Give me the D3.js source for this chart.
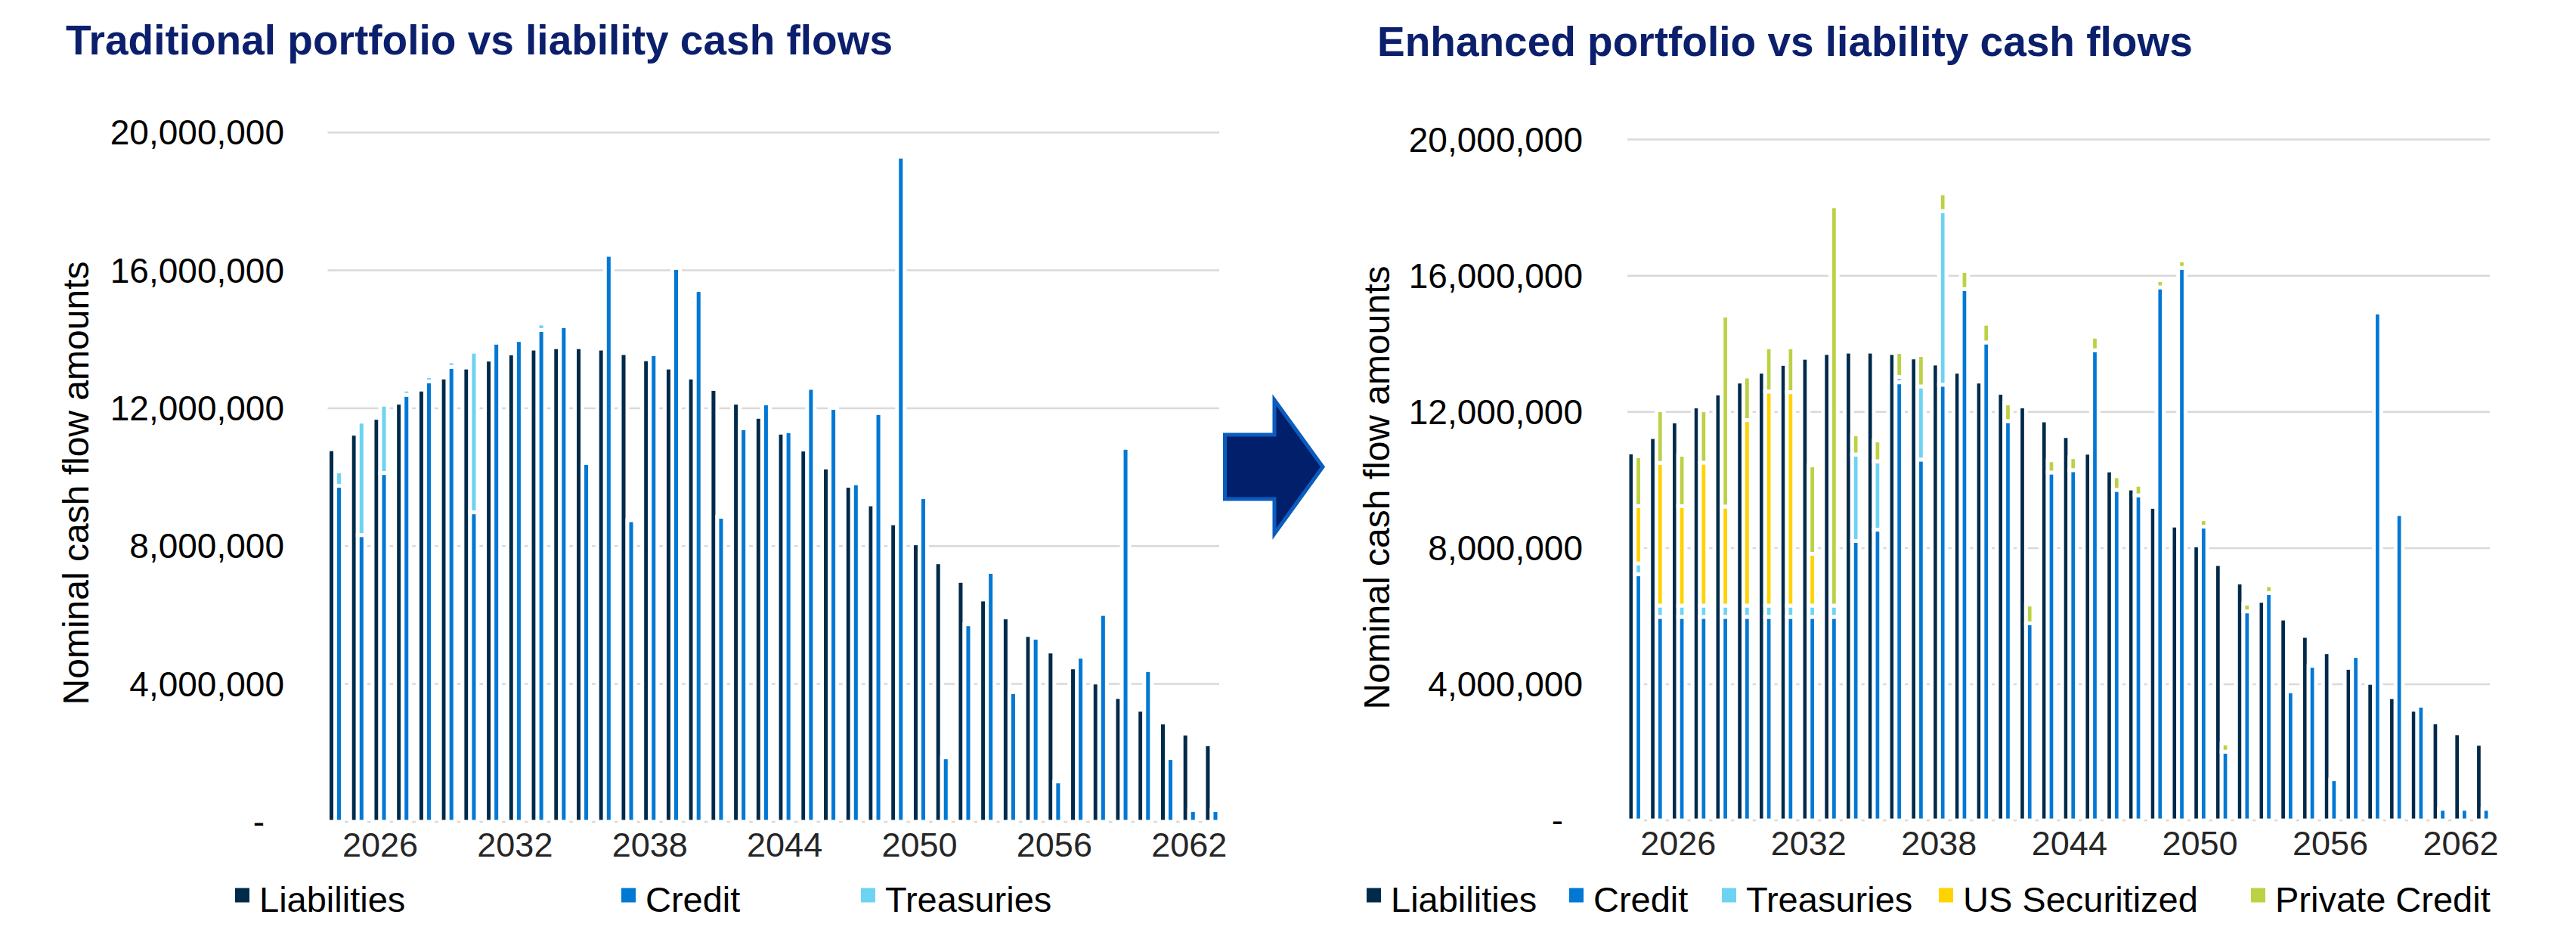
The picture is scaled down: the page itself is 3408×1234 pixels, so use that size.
<!DOCTYPE html>
<html>
<head>
<meta charset="utf-8">
<script src="https://cdn.jsdelivr.net/npm/d3@7"></script>
<style>
  body { margin: 0; background: #fff; }
  text { font-family: "Liberation Sans", Arial, sans-serif; }
</style>
</head>
<body>
<div id="chart"></div>
<script>
// cash flows, millions of dollars per year
const years = ["2024","2025","2026","2027","2028","2029","2030","2031","2032","2033",
  "2034","2035","2036","2037","2038","2039","2040","2041","2042","2043",
  "2044","2045","2046","2047","2048","2049","2050","2051","2052","2053",
  "2054","2055","2056","2057","2058","2059","2060","2061","2062","2063"];

const liabilities = [10.81, 11.26, 11.72, 12.16, 12.54, 12.89, 13.18, 13.41, 13.59, 13.73,
  13.77, 13.77, 13.73, 13.60, 13.42, 13.18, 12.89, 12.56, 12.16, 11.75,
  11.29, 10.80, 10.28, 9.75, 9.21, 8.66, 8.08, 7.53, 6.99, 6.45,
  5.93, 5.42, 4.94, 4.48, 4.04, 3.62, 3.25, 2.88, 2.56, 2.25];

// traditional portfolio
const tradCredit = [9.75, 8.32, 10.12, 12.39, 12.78, 13.20, 8.98, 13.90, 13.98, 14.27,
  14.38, 10.41, 16.45, 8.75, 13.57, 16.07, 15.43, 8.85, 11.42, 12.14,
  11.33, 12.59, 12.01, 9.82, 11.86, 19.30, 9.42, 1.87, 5.73, 7.25,
  3.76, 5.34, 1.17, 4.79, 6.03, 10.85, 4.40, 1.85, 0.34, 0.34];
const tradTreasuries = [0.42, 3.29, 1.98, 0.15, 0.15, 0.16, 4.66, 0, 0, 0.19,
  0, 0, 0, 0, 0, 0, 0, 0, 0, 0,
  0, 0, 0, 0, 0, 0, 0, 0, 0, 0,
  0, 0, 0, 0, 0, 0, 0, 0, 0, 0];

// enhanced portfolio
const enhCredit = [7.23, 5.98, 5.98, 5.98, 5.98, 5.98, 5.98, 5.98, 5.98, 5.98,
  8.21, 8.54, 12.87, 10.60, 12.80, 15.61, 14.04, 11.73, 5.79, 10.22,
  10.29, 13.81, 9.71, 9.55, 15.66, 16.23, 8.63, 2.02, 6.14, 6.68,
  3.79, 4.54, 1.21, 4.83, 14.92, 9.00, 3.37, 0.34, 0.34, 0.34];
const enhTreasuries = [0.32, 0.33, 0.33, 0.33, 0.33, 0.33, 0.33, 0.33, 0.33, 0.33,
  2.54, 2.01, 0.16, 2.15, 5.10, 0, 0, 0, 0, 0,
  0, 0, 0, 0, 0, 0, 0, 0, 0, 0,
  0, 0, 0, 0, 0, 0, 0, 0, 0, 0];
const enhSecuritized = [1.68, 4.19, 2.92, 4.20, 2.91, 5.45, 6.29, 6.27, 1.52, 0,
  0, 0, 0, 0, 0, 0, 0, 0, 0, 0,
  0, 0, 0, 0, 0, 0, 0, 0, 0, 0,
  0, 0, 0, 0, 0, 0, 0, 0, 0, 0];
const enhPrivateCredit = [1.47, 1.55, 1.51, 1.54, 5.61, 1.28, 1.30, 1.32, 2.60, 11.73,
  0.59, 0.61, 0.73, 0.92, 0.52, 0.53, 0.55, 0.52, 0.55, 0.36,
  0.38, 0.40, 0.40, 0.31, 0.21, 0.22, 0.22, 0.24, 0.23, 0.23,
  0, 0, 0, 0, 0, 0, 0, 0, 0, 0];

const yTicks = [0, 4, 8, 12, 16, 20];
const xTickLabels = ["2026", "2032", "2038", "2044", "2050", "2056", "2062"];

const colors = {
  "Liabilities": "#002A4A",
  "Credit": "#0078D4",
  "Treasuries": "#6DD3F3",
  "US Securitized": "#FFD200",
  "Private Credit": "#BCD144"
};

const width = 3408, height = 1234;
const svg = d3.select("#chart").append("svg")
  .attr("width", width)
  .attr("height", height)
  .style("display", "block");

svg.append("rect").attr("width", width).attr("height", height).attr("fill", "#fff");

const drawPanel = (cfg) => {
  let x0 = d3.scaleBand()
    .domain(years)
    .range([cfg.left, cfg.right])
    .paddingInner(0.325)
    .paddingOuter(0);

  let x1 = d3.scaleBand()
    .domain(["liab", "stack"])
    .range([0, x0.bandwidth()]);

  let y = d3.scaleLinear()
    .domain([0, 20])
    .range([cfg.bottom, cfg.top]);

  let g = svg.append("g");

  // gridlines + category axis line
  g.selectAll(".grid")
    .data(yTicks)
    .enter()
    .append("line")
    .attr("x1", cfg.left)
    .attr("x2", cfg.right)
    .attr("y1", d => y(d))
    .attr("y2", d => y(d))
    .attr("stroke", "#D9D9D9")
    .attr("stroke-width", 2.5);

  // y tick labels
  g.selectAll(".ylab")
    .data(yTicks)
    .enter()
    .append("text")
    .attr("x", d => d === 0 ? cfg.labelRight - 26 : cfg.labelRight)
    .attr("y", d => y(d))
    .attr("dy", "0.35em")
    .attr("text-anchor", "end")
    .attr("font-size", "46px")
    .attr("fill", "#000")
    .text(d => d === 0 ? "-" : d3.format(",")(d * 1e6));

  // x tick labels
  g.selectAll(".xlab")
    .data(xTickLabels)
    .enter()
    .append("text")
    .attr("x", d => x0(d) + x0.bandwidth() / 2)
    .attr("y", cfg.bottom + 46)
    .attr("text-anchor", "middle")
    .attr("font-size", "45px")
    .attr("fill", "#262626")
    .text(d => d);

  // liabilities
  g.selectAll(".liab")
    .data(years)
    .enter()
    .append("rect")
    .attr("x", (d, i) => x0(d) + x1("liab"))
    .attr("y", (d, i) => y(liabilities[i]))
    .attr("width", x1.bandwidth())
    .attr("height", (d, i) => y(0) - y(liabilities[i]))
    .attr("fill", colors["Liabilities"])
    .attr("stroke", "#fff")
    .attr("stroke-width", 5);

  // stacked assets
  let rows = years.map((yr, i) => {
    let row = { year: yr };
    cfg.series.forEach(s => { row[s.name] = s.values[i]; });
    return row;
  });
  let stacked = d3.stack().keys(cfg.series.map(s => s.name))(rows);

  stacked.forEach(layer => {
    g.selectAll(null)
      .data(layer.filter(d => d[1] - d[0] > 0))
      .enter()
      .append("rect")
      .attr("x", d => x0(d.data.year) + x1("stack"))
      .attr("y", d => y(d[1]))
      .attr("width", x1.bandwidth())
      .attr("height", d => y(d[0]) - y(d[1]))
      .attr("fill", colors[layer.key])
      .attr("stroke", "#fff")
      .attr("stroke-width", 5);
  });

  // title
  g.append("text")
    .attr("x", cfg.titleX)
    .attr("y", cfg.titleY)
    .attr("font-size", "55px")
    .attr("font-weight", "bold")
    .attr("fill", "#0B1F6C")
    .text(cfg.title);

  // y axis title
  g.append("text")
    .attr("transform", `translate(${cfg.yTitleX},${cfg.yTitleY}) rotate(-90)`)
    .attr("text-anchor", "middle")
    .attr("font-size", "48px")
    .attr("fill", "#000")
    .text("Nominal cash flow amounts");

  // legend
  let names = ["Liabilities"].concat(cfg.series.map(s => s.name));
  let lg = g.selectAll(".leg")
    .data(names)
    .enter()
    .append("g")
    .attr("transform", (d, i) => `translate(${cfg.legendX[i]},1184)`);
  lg.append("rect")
    .attr("x", 0)
    .attr("y", -9.5)
    .attr("width", 19)
    .attr("height", 19)
    .attr("fill", d => colors[d]);
  lg.append("text")
    .attr("x", 32)
    .attr("y", 22)
    .attr("font-size", "47px")
    .attr("fill", "#000")
    .text(d => d);
};

drawPanel({
  title: "Traditional portfolio vs liability cash flows",
  titleX: 87, titleY: 72,
  left: 433.5, right: 1613, top: 175.3, bottom: 1086.9,
  labelRight: 376,
  yTitleX: 117, yTitleY: 639,
  series: [
    { name: "Credit", values: tradCredit },
    { name: "Treasuries", values: tradTreasuries }
  ],
  legendX: [311, 822, 1139]
});

drawPanel({
  title: "Enhanced portfolio vs liability cash flows",
  titleX: 1822, titleY: 74,
  left: 2153, right: 3294, top: 184.6, bottom: 1085.1,
  labelRight: 2094,
  yTitleX: 1838, yTitleY: 645,
  series: [
    { name: "Credit", values: enhCredit },
    { name: "Treasuries", values: enhTreasuries },
    { name: "US Securitized", values: enhSecuritized },
    { name: "Private Credit", values: enhPrivateCredit }
  ],
  legendX: [1808, 2076, 2278, 2565, 2978]
});

// arrow between the two panels
svg.append("path")
  .attr("d", d3.line()([[1620.5, 575], [1686, 575], [1686, 529], [1750, 617.5],
    [1686, 706], [1686, 660], [1620.5, 660]]) + "Z")
  .attr("fill", "#021F6B")
  .attr("stroke", "#0A5CBE")
  .attr("stroke-width", 5)
  .attr("stroke-linejoin", "miter");
</script>
</body>
</html>
